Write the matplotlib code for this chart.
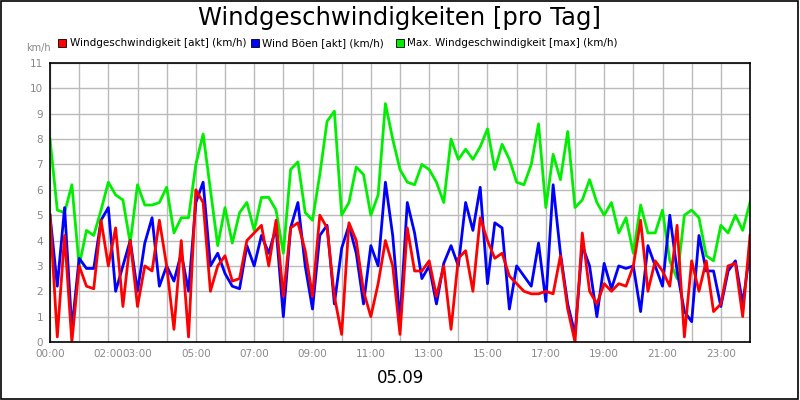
import numpy as np
import matplotlib
matplotlib.use("Agg")
import matplotlib.pyplot as plt
from matplotlib.patches import Rectangle

# quarter-hour readings, 00:00 .. 24:00 (97 values)
wind_akt = [5.0, 0.2, 4.2, 0.0, 3.0, 2.2, 2.1, 4.8, 3.0, 4.5, 1.4, 4.0, 1.4, 3.0, 2.8, 4.8,
            3.0, 0.5, 4.0, 0.2, 6.0, 5.5, 2.0, 3.0, 3.4, 2.4, 2.5, 4.0, 4.3, 4.6, 3.0, 4.8,
            1.8, 4.5, 4.7, 3.6, 1.8, 5.0, 4.5, 1.8, 0.3, 4.7, 4.0, 2.0, 1.0, 2.3, 4.0, 3.0,
            0.3, 4.5, 2.8, 2.8, 3.2, 1.8, 3.0, 0.5, 3.3, 3.6, 2.0, 4.9, 4.0, 3.3, 3.5, 2.6,
            2.3, 2.0, 1.9, 1.9, 2.0, 1.9, 3.4, 1.3, 0.0, 4.3, 2.0, 1.5, 2.3, 2.0, 2.3, 2.2,
            3.0, 4.8, 2.0, 3.2, 2.8, 2.2, 4.6, 0.2, 3.2, 2.0, 3.2, 1.2, 1.5, 3.0, 3.1, 1.0, 4.2]
wind_boeen = [5.0, 2.2, 5.3, 0.5, 3.3, 2.9, 2.9, 4.8, 5.3, 2.0, 3.0, 4.0, 2.0, 3.9, 4.9, 2.2,
              3.0, 2.4, 3.5, 2.0, 5.5, 6.3, 3.0, 3.5, 2.7, 2.2, 2.1, 3.8, 3.0, 4.2, 3.5, 4.5,
              1.0, 4.5, 5.5, 3.0, 1.3, 4.2, 4.6, 1.5, 3.7, 4.6, 3.5, 1.5, 3.8, 3.0, 6.3, 4.2,
              0.8, 5.5, 4.3, 2.5, 3.0, 1.5, 3.1, 3.8, 3.0, 5.5, 4.4, 6.1, 2.3, 4.7, 4.5, 1.3,
              3.0, 2.6, 2.2, 3.9, 1.6, 6.2, 3.5, 1.5, 0.3, 3.8, 3.0, 1.0, 3.1, 2.1, 3.0, 2.9,
              3.0, 1.2, 3.8, 3.0, 2.2, 5.0, 2.8, 1.2, 0.8, 4.2, 2.8, 2.8, 1.4, 2.8, 3.2, 1.5, 3.6]
wind_max = [8.0, 5.2, 5.1, 6.2, 3.0, 4.4, 4.2, 5.2, 6.3, 5.8, 5.6, 3.9, 6.2, 5.4, 5.4, 5.5,
            6.1, 4.3, 4.9, 4.9, 7.0, 8.2, 6.0, 3.8, 5.3, 3.9, 5.1, 5.5, 4.4, 5.7, 5.7, 5.2,
            3.5, 6.8, 7.1, 5.1, 4.8, 6.6, 8.7, 9.1, 5.0, 5.5, 6.9, 6.6, 5.0, 5.8, 9.4, 8.0,
            6.8, 6.3, 6.2, 7.0, 6.8, 6.3, 5.5, 8.0, 7.2, 7.6, 7.2, 7.7, 8.4, 6.8, 7.8, 7.2,
            6.3, 6.2, 7.0, 8.6, 5.3, 7.4, 6.4, 8.3, 5.3, 5.6, 6.4, 5.5, 5.0, 5.5, 4.3, 4.9,
            3.5, 5.4, 4.3, 4.3, 5.2, 3.2, 2.5, 5.0, 5.2, 4.9, 3.4, 3.2, 4.6, 4.3, 5.0, 4.4, 5.5]
hours = np.arange(len(wind_akt)) * 0.25

tick_pos = [0, 2, 3, 5, 7, 9, 11, 13, 15, 17, 19, 21, 23]
tick_lbl = ["%02d:00" % h for h in tick_pos]
series_names = ["Windgeschwindigkeit [akt] (km/h)", "Wind Böen [akt] (km/h)",
                "Max. Windgeschwindigkeit [max] (km/h)"]
colors = ["#ff0000", "#0000ff", "#00ee00"]

fig = plt.figure(figsize=(8, 4), dpi=100)
fig.patches.append(Rectangle((0.001, 0.002), 0.997, 0.996, transform=fig.transFigure,
                             fill=False, edgecolor="black", lw=1.2))
ax = fig.add_axes([0.0625, 0.145, 0.875, 0.6975])

ax.plot(hours, wind_max, color=colors[2], lw=2)
ax.plot(hours, wind_boeen, color=colors[1], lw=2)
ax.plot(hours, wind_akt, color=colors[0], lw=2)

ax.set_xlim(0, 24)
ax.set_ylim(0, 11)
ax.set_yticks(range(12))
ax.set_xticks(range(25), minor=True)
ax.set_xticks(tick_pos)
ax.set_xticklabels(tick_lbl)
ax.grid(True, which="both", color="#bbbbbb", lw=1)
ax.set_axisbelow(True)
ax.tick_params(which="both", length=0, labelsize=7.5, labelcolor="#888888", pad=5)
for s in ax.spines.values():
    s.set_linewidth(1.2)

fig.text(0.5, 0.955, "Windgeschwindigkeiten [pro Tag]", ha="center", va="center", fontsize=17.5)
fig.text(0.033, 0.88, "km/h", fontsize=7, color="#888888", ha="left", va="center")
fig.text(0.5, 0.055, "05.09", ha="center", va="center", fontsize=12)

leg_x = [0.073, 0.314, 0.495]
for x, name, c in zip(leg_x, series_names, colors):
    fig.patches.append(Rectangle((x, 0.882), 0.01, 0.02, transform=fig.transFigure,
                                 facecolor=c, edgecolor="black", lw=0.6))
    fig.text(x + 0.014, 0.892, name, fontsize=7.5, va="center", ha="left")

fig.savefig("out.png", dpi=100)
